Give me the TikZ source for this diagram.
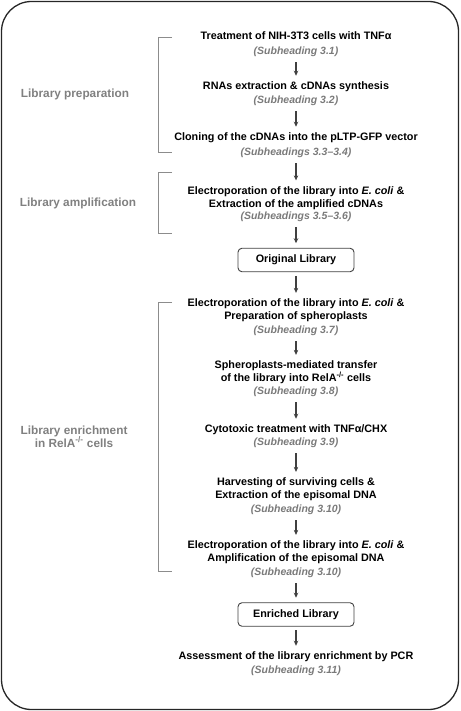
\documentclass[tikz,border=0pt]{standalone}
\usepackage{fontspec}
\setmainfont{Liberation Sans}
\usetikzlibrary{arrows.meta}
\definecolor{subgray}{HTML}{7A7A7A}
\definecolor{grpgray}{HTML}{808080}
\definecolor{arrgray}{HTML}{404040}
\definecolor{brkgray}{HTML}{8C8C8C}
\newcommand{\flowfont}{\fontsize{10.8}{12.8}\selectfont}
\newcommand{\subfont}{\fontsize{10.5}{12.8}\selectfont}
\newcommand{\grpfont}{\fontsize{11.8}{13}\selectfont}
\begin{document}
\begin{tikzpicture}[x=1pt, y=-1pt,
        steptxt/.style={font=\flowfont\bfseries, align=center, inner xsep=0pt, inner ysep=3pt},
        subhd/.style={font=\subfont\bfseries\itshape, text=subgray, inner xsep=0pt, inner ysep=3pt},
        libbox/.style={draw=arrgray, line width=0.9pt, rounded corners=4pt, font=\flowfont\bfseries,
            minimum width=116pt, minimum height=23.5pt, outer sep=2pt},
        grouplbl/.style={font=\grpfont\bfseries, text=grpgray, align=center},
        bracket/.style={draw=brkgray, line width=0.9pt},
        flow/.style={->, draw=arrgray, line width=1.3pt, shorten <=2pt, shorten >=3pt},
        >={Stealth[length=5pt, width=4.5pt]}
    ]
        % Outer frame
        \useasboundingbox (0,0) rectangle (460,711);
        \draw[line width=1.3pt, draw=black!85, rounded corners=30pt] (1.5,1.5) rectangle (458.5,709.5);

        % Library preparation
        \node[steptxt] (t1) at (296,36) {Treatment of NIH-3T3 cells with TNFα};
        \node[subhd] (s1) at (296,52) {(Subheading 3.1)};
        \node[steptxt] (t2) at (296,87) {RNAs extraction \& cDNAs synthesis};
        \node[subhd] (s2) at (296,101) {(Subheading 3.2)};
        \node[steptxt] (t3) at (296,138) {Cloning of the cDNAs into the pLTP-GFP vector};
        \node[subhd] (s3) at (296,153) {(Subheadings 3.3–3.4)};

        % Library amplification
        \node[steptxt] (t4) at (296,198) {Electroporation of the library into \textit{E. coli} \&\\Extraction of the amplified cDNAs};
        \node[subhd] (s4) at (296,217) {(Subheadings 3.5–3.6)};
        \node[libbox] (orig) at (296,260) {Original Library};

        % Library enrichment
        \node[steptxt] (t5) at (296,310.5) {Electroporation of the library into \textit{E. coli} \&\\Preparation of spheroplasts};
        \node[subhd] (s5) at (296,331) {(Subheading 3.7)};
        \node[steptxt] (t6) at (296,372.5) {Spheroplasts-mediated transfer\\of the library into RelA\textsuperscript{-/-} cells};
        \node[subhd] (s6) at (296,392) {(Subheading 3.8)};
        \node[steptxt] (t7) at (296,430) {Cytotoxic treatment with TNFα/CHX};
        \node[subhd] (s7) at (296,443) {(Subheading 3.9)};
        \node[steptxt] (t8) at (296,489.5) {Harvesting of surviving cells \&\\Extraction of the episomal DNA};
        \node[subhd] (s8) at (296,510) {(Subheading 3.10)};
        \node[steptxt] (t9) at (296,552.5) {Electroporation of the library into \textit{E. coli} \&\\Amplification of the episomal DNA};
        \node[subhd] (s9) at (296,573) {(Subheading 3.10)};
        \node[libbox] (enr) at (296,614.5) {Enriched Library};

        % Final assessment
        \node[steptxt] (t10) at (296,657) {Assessment of the library enrichment by PCR};
        \node[subhd] (s10) at (296,671) {(Subheading 3.11)};

        % Flow arrows
        \draw[flow] (s1) -- (t2);
        \draw[flow] (s2) -- (t3);
        \draw[flow] (s3) -- (t4);
        \draw[flow] (s4) -- (orig);
        \draw[flow] (orig) -- (t5);
        \draw[flow] (s5) -- (t6);
        \draw[flow] (s6) -- (t7);
        \draw[flow] (s7) -- (t8);
        \draw[flow] (s8) -- (t9);
        \draw[flow] (s9) -- (enr);
        \draw[flow] (enr) -- (t10);

        % Brackets and group labels
        \draw[bracket] (172,37) -- (158,37) -- (158,152) -- (172,152);
        \draw[bracket] (172,172) -- (158,172) -- (158,233) -- (172,233);
        \draw[bracket] (172,302) -- (158,302) -- (158,571) -- (172,571);
        \node[grouplbl] (g1) at (75,94) {Library preparation};
        \node[grouplbl] (g2) at (78,203) {Library amplification};
        \node[grouplbl] (g3) at (74,436.5) {Library enrichment\\in RelA\textsuperscript{-/-} cells};
    \end{tikzpicture}
\end{document}
